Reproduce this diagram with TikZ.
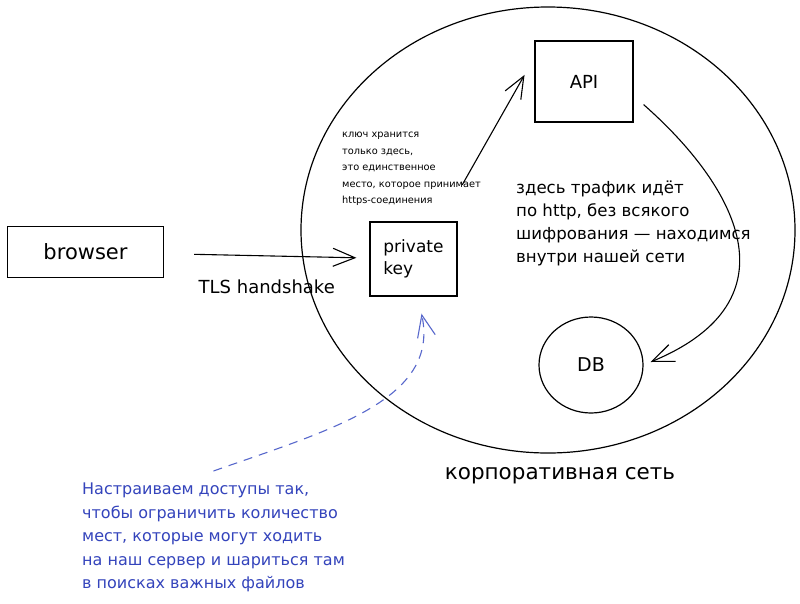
\documentclass[tikz,border=0pt]{standalone}
\usepackage{fontspec}
\setmainfont{DejaVu Sans}
\usetikzlibrary{shapes.geometric,arrows.meta}
\definecolor{noteblue}{RGB}{52,68,188}
\definecolor{dashblue}{RGB}{88,104,204}
\begin{document}
\begin{tikzpicture}[x=1pt, y=-1pt,
    sysbox/.style={rectangle, draw=black, line width=1.2pt, inner sep=0pt},
    sysring/.style={ellipse, draw=black, line width=1.2pt, inner sep=0pt},
    sysarr/.style={->, >={Straight Barb[length=22pt,width=18pt]}, line width=1.1pt},
    memo/.style={inner sep=0pt, align=left, anchor=north west}
]
\useasboundingbox[fill=white] (0,0) rectangle (800,603);

% Network boundary
\node[sysring, minimum width=494pt, minimum height=446pt] (net) at (548,230) {};
\node[font=\fontsize{21.5}{24}\selectfont] (netlabel) at (560,476) {корпоративная сеть};

% Boxes
\node[sysbox, minimum width=156pt, minimum height=51pt, font=\fontsize{21}{24}\selectfont] (browser) at (85.5,252) {browser};
\node[sysbox, minimum width=87pt, minimum height=74pt] (pkey) at (413.5,259) {};
\node[align=left, inner sep=0pt, font=\fontsize{17}{22}\selectfont] (pkeytext) at (pkey) {private\\key};
\node[sysbox, minimum width=98pt, minimum height=81pt, font=\fontsize{18}{20}\selectfont] (api) at (584,81.5) {API};
\node[sysring, minimum width=104pt, minimum height=96pt, font=\fontsize{19}{20}\selectfont] (db) at (591,365) {DB};

% Notes
\node[memo, font=\fontsize{9.8}{16.5}\selectfont] (keynote) at (342,132) {ключ хранится\\только здесь,\\это единственное\\место, которое принимает\\https-соединения};
\node[memo, font=\fontsize{16.6}{23}\selectfont] (httpnote) at (516,181) {здесь трафик идёт\\по http, без всякого\\шифрования — находимся\\внутри нашей сети};
\node[memo, text=noteblue, font=\fontsize{16}{23.5}\selectfont] (accessnote) at (82,483) {Настраиваем доступы так,\\чтобы ограничить количество\\мест, которые могут ходить\\на наш сервер и шариться там\\в поисках важных файлов};

% Connections
\draw[sysarr, shorten <=30pt, shorten >=13pt] (browser) -- node[below=20pt, font=\fontsize{18}{20}\selectfont] (tls) {TLS handshake} (pkey);
\draw[sysarr, shorten <=42pt, shorten >=20pt] ([xshift=28pt]pkey.north) -- ([yshift=24pt]api.west);
\draw[sysarr] ([shift={(10,-18)}]api.south east) .. controls (735,185) and (800,300) .. ([shift={(7,-3)}]db.east);
\draw[sysarr, dashblue, dashed, dash pattern=on 9pt off 7pt] ([yshift=12pt]accessnote.north) .. controls (330,430) and (440,400) .. ([shift={(8,17)}]pkey.south);

\end{tikzpicture}
\end{document}
